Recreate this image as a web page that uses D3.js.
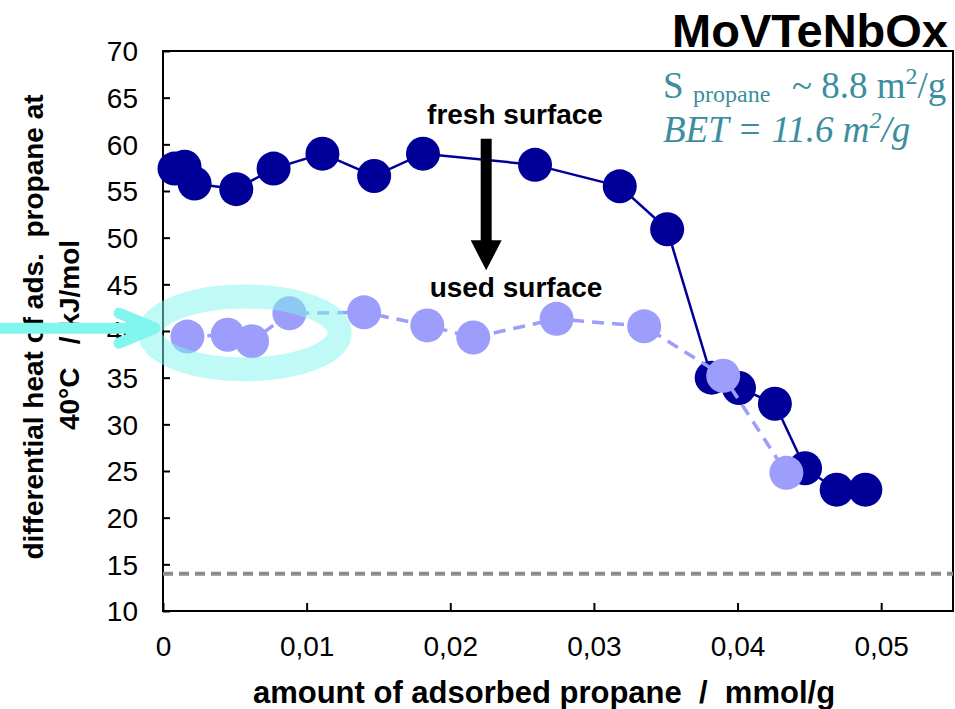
<!DOCTYPE html>
<html>
<head>
<meta charset="utf-8">
<script src="https://cdn.jsdelivr.net/npm/d3@7"></script>
<style>
  html, body { margin: 0; padding: 0; background: #fff; }
  svg { display: block; }
</style>
</head>
<body>
<svg id="chart" width="955" height="709"></svg>
<script>
// Differential heat of propane adsorption at 40 °C on MoVTeNbOx
const freshX = [0.0008, 0.0015, 0.0022, 0.0051, 0.0077, 0.0111, 0.0147, 0.0181, 0.0259, 0.0318, 0.0351, 0.0382, 0.0401, 0.0426, 0.0447, 0.0469, 0.0489];
const freshY = [57.4, 57.6, 55.8, 55.2, 57.4, 59.0, 56.6, 59.0, 57.8, 55.5, 50.9, 35.0, 33.9, 32.2, 25.3, 23.0, 23.0];
const usedX = [0.0017, 0.0045, 0.0062, 0.0088, 0.0140, 0.0184, 0.0216, 0.0274, 0.0335, 0.0390, 0.0434];
const usedY = [39.4, 39.6, 38.9, 41.9, 42.0, 40.6, 39.3, 41.3, 40.5, 35.2, 24.8];
const xTicks = [0, 0.01, 0.02, 0.03, 0.04, 0.05];
const xTickLabels = ["0", "0,01", "0,02", "0,03", "0,04", "0,05"];
const yTicks = [10, 15, 20, 25, 30, 35, 40, 45, 50, 55, 60, 65, 70];
const baselineHeat = 14;

const svg = d3.select("#chart");
const plotLeft = 163, plotTop = 51, plotW = 790, plotH = 560;

const x = d3.scaleLinear().domain([0, 0.055]).range([plotLeft, plotLeft + plotW]);
const y = d3.scaleLinear().domain([10, 70]).range([plotTop + plotH, plotTop]);

const sans = "'Liberation Sans', Arial, sans-serif";
const serif = "'Liberation Serif', 'Times New Roman', serif";

// frame
svg.append("rect")
  .attr("x", plotLeft).attr("y", plotTop).attr("width", plotW).attr("height", plotH)
  .attr("fill", "none").attr("stroke", "#000").attr("stroke-width", 2);

// axes with inward ticks
const yAxis = d3.axisLeft(y).tickValues(yTicks).tickSize(-7).tickFormat(d3.format("d"));
const gy = svg.append("g").attr("transform", `translate(${plotLeft},0)`).call(yAxis);
const xAxis = d3.axisBottom(x).tickValues(xTicks).tickSize(-8)
  .tickFormat((d, i) => xTickLabels[i]);
const gx = svg.append("g").attr("transform", `translate(0,${plotTop + plotH})`).call(xAxis);
[gx, gy].forEach(g => {
  g.select(".domain").remove();
  g.selectAll(".tick line").attr("stroke", "#000").attr("stroke-width", 2);
  g.selectAll(".tick text").attr("fill", "#000").attr("font-family", sans).attr("font-size", 28);
});
gy.selectAll(".tick text").attr("x", -25).attr("dy", "0.35em");
gx.selectAll(".tick text").attr("y", 45).attr("dy", 0);

// reference level
svg.append("line")
  .attr("x1", x(0)).attr("x2", x(0.055))
  .attr("y1", y(baselineHeat)).attr("y2", y(baselineHeat))
  .attr("stroke", "#8c8c8c").attr("stroke-width", 4).attr("stroke-dasharray", "10,6");

const freshPts = freshX.map((v, i) => [v, freshY[i]]);
const usedPts = usedX.map((v, i) => [v, usedY[i]]);
const line = d3.line().x(d => x(d[0])).y(d => y(d[1]));

// fresh surface
svg.append("path").datum(freshPts).attr("d", line)
  .attr("fill", "none").attr("stroke", "#000099").attr("stroke-width", 2.5);
svg.append("g").selectAll("circle").data(freshPts).join("circle")
  .attr("cx", d => x(d[0])).attr("cy", d => y(d[1])).attr("r", 17)
  .attr("fill", "#000099");

// used surface
svg.append("path").datum(usedPts).attr("d", line)
  .attr("fill", "none").attr("stroke", "#9d9dfb").attr("stroke-width", 3.5)
  .attr("stroke-dasharray", "12,8");
svg.append("g").selectAll("circle").data(usedPts).join("circle")
  .attr("cx", d => x(d[0])).attr("cy", d => y(d[1])).attr("r", 17)
  .attr("fill", "#9d9dfb");

// highlight ring around the low-coverage used-surface points
svg.append("ellipse")
  .attr("cx", x(0.0057)).attr("cy", y(39.8))
  .attr("rx", x(0.0066) - x(0)).attr("ry", y(10) - y(13.9))
  .attr("fill", "none").attr("stroke", "#7ff5ee").attr("stroke-opacity", 0.5)
  .attr("stroke-width", 24);

// black arrow from fresh to used surface
const bx = x(0.0225);
svg.append("rect").attr("x", bx - 5.5).attr("y", y(60.6)).attr("width", 11).attr("height", y(46.5) - y(60.6) - 28)
  .attr("fill", "#000");
svg.append("path").attr("fill", "#000")
  .attr("d", `M${bx - 15.5},${y(46.5) - 30} L${bx + 15.5},${y(46.5) - 30} L${bx},${y(46.5)} Z`);

svg.append("text").attr("x", 515).attr("y", 124).attr("text-anchor", "middle")
  .attr("font-family", sans).attr("font-weight", "bold").attr("font-size", 28)
  .text("fresh surface");
svg.append("text").attr("x", 516).attr("y", 297).attr("text-anchor", "middle")
  .attr("font-family", sans).attr("font-weight", "bold").attr("font-size", 28)
  .text("used surface");

// title and surface area notes
svg.append("text").attr("x", 948).attr("y", 47).attr("text-anchor", "end")
  .attr("font-family", sans).attr("font-weight", "bold").attr("font-size", 47)
  .text("MoVTeNbOx");

const teal = "#3b8e9e";
const s1 = svg.append("text").attr("x", 663).attr("y", 98)
  .attr("font-family", serif).attr("font-size", 37).attr("fill", teal);
s1.append("tspan").text("S");
s1.append("tspan").attr("font-size", 24).attr("x", 693).attr("dy", 4).text("propane");
s1.append("tspan").attr("x", 792).attr("dy", -4).text("~ 8.8 m");
s1.append("tspan").attr("font-size", 24).attr("dy", -14).text("2");
s1.append("tspan").attr("dy", 14).text("/g");

const s2 = svg.append("text").attr("x", 663).attr("y", 142)
  .attr("font-family", serif).attr("font-style", "italic").attr("font-size", 37).attr("fill", teal);
s2.append("tspan").text("BET = 11.6 m");
s2.append("tspan").attr("font-size", 24).attr("dy", -14).text("2");
s2.append("tspan").attr("dy", 14).text("/g");

// axis titles
svg.append("text").attr("x", 544).attr("y", 703).attr("text-anchor", "middle")
  .attr("font-family", sans).attr("font-weight", "bold").attr("font-size", 31)
  .attr("xml:space", "preserve")
  .text("amount of adsorbed propane  /  mmol/g");

const yl = svg.append("text").attr("transform", "rotate(-90)")
  .attr("text-anchor", "middle").attr("font-family", sans).attr("font-weight", "bold")
  .attr("font-size", 28).attr("xml:space", "preserve");
yl.append("tspan").attr("x", -327).attr("y", 43).text("differential heat of ads.  propane at");
yl.append("tspan").attr("x", -335).attr("y", 79).text("40°C   / kJ/mol");

// cyan pointer arrow, drawn over the axis title
const ay = y(40.3), tipX = x(0) - 8;
const cyanArrow = svg.append("g").attr("stroke", "#80f6ef").attr("stroke-width", 11)
  .attr("stroke-linecap", "round").attr("fill", "none");
cyanArrow.append("line").attr("x1", -10).attr("x2", tipX - 4).attr("y1", ay).attr("y2", ay);
cyanArrow.append("path").attr("stroke-linejoin", "round")
  .attr("d", `M${tipX - 36},${ay - 15} L${tipX},${ay} L${tipX - 36},${ay + 15}`);
</script>
</body>
</html>
